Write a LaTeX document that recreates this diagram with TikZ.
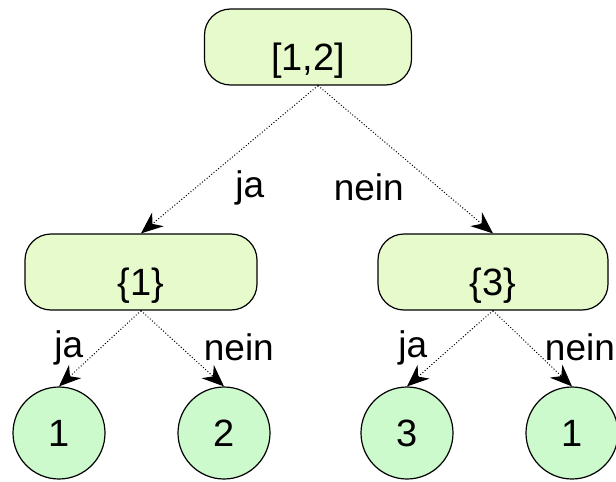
\documentclass[tikz,border=0pt]{standalone}
\usepackage{fontspec}
\setmainfont{Liberation Sans}
\usetikzlibrary{arrows.meta}

\definecolor{setfill}{RGB}{230,250,204}
\definecolor{leaffill}{RGB}{204,250,204}

\begin{document}
\begin{tikzpicture}[x=0.5pt, y=-0.5pt,
    set/.style={draw, line width=0.6pt, rounded corners=13pt, fill=setfill,
      minimum height=38pt, text height=23pt, text depth=0pt,
      font=\fontsize{19}{22}\selectfont},
    leaf/.style={draw, circle, line width=0.6pt, fill=leaffill,
      minimum size=46pt, inner sep=0pt, font=\fontsize{19}{22}\selectfont},
    branch/.style={densely dotted, line width=0.5pt,
      -{Stealth[length=11pt, width=9pt]}},
    answer/.style={inner sep=0pt, font=\fontsize{18.5}{22}\selectfont}]
    \useasboundingbox (0, 0) rectangle (616, 482);

    % sets
    \node [set, minimum width=103.5pt] (root) at (308,  47) {[1,2]};
    \node [set, minimum width=116pt]   (L)    at (141, 272) {\{1\}};
    \node [set, minimum width=115pt]   (R)    at (493, 272) {\{3\}};

    % leaves
    \node [leaf] (c1) at ( 59, 433) {1};
    \node [leaf] (c2) at (224, 433) {2};
    \node [leaf] (c3) at (407, 433) {3};
    \node [leaf] (c4) at (572, 433) {1};

    \draw [branch] ([xshift=5pt]root.south) --
        node [answer, pos=0.69, xshift=27pt] {ja} (L.north);
    \draw [branch] ([xshift=5pt]root.south) --
        node [answer, pos=0.69, xshift=-35pt] {nein} (R.north);

    \draw [branch] (L.south) -- node [answer, pos=0.49, xshift=-16pt] {ja} (c1.north);
    \draw [branch] (L.south) -- node [answer, pos=0.48, xshift=29pt] {nein} (c2.north);
    \draw [branch] (R.south) -- node [answer, pos=0.49, xshift=-19pt] {ja} (c3.north);
    \draw [branch] (R.south) -- node [answer, pos=0.48, xshift=24.5pt] {nein} (c4.north);
  \end{tikzpicture}
\end{document}
